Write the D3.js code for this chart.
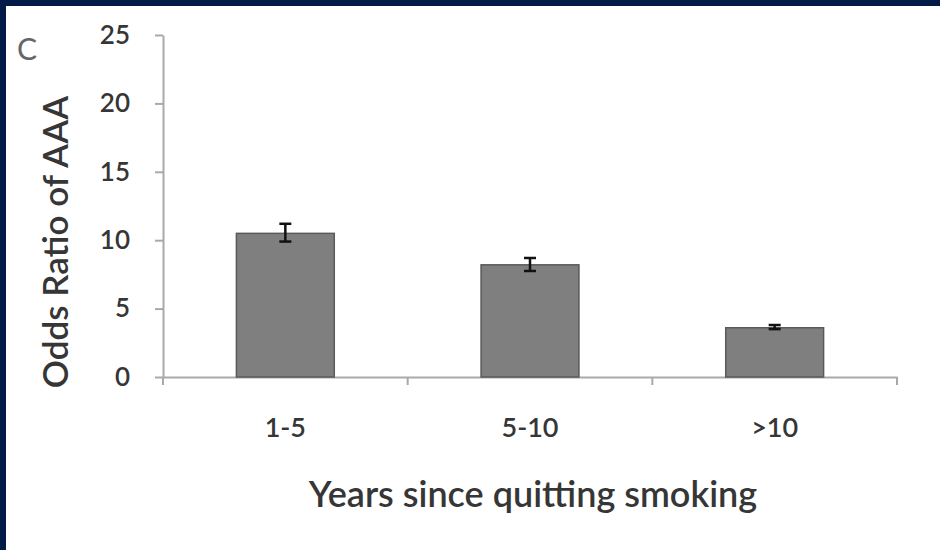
<!DOCTYPE html>
<html>
<head>
<meta charset="utf-8">
<script src="https://cdn.jsdelivr.net/npm/d3@7"></script>
<style>
  html, body { margin: 0; padding: 0; background: #ffffff; }
  svg { display: block; }
  text { font-family: Lato, "Open Sans", sans-serif; }
</style>
</head>
<body>
<svg id="chart" width="940" height="550"></svg>
<script>
// ---- data ----
const categories = ["1-5", "5-10", ">10"];
const oddsRatio = [10.5, 8.2, 3.6];
const errUpper = [11.2, 8.7, 3.8];
const errLower = [9.9, 7.75, 3.5];
const yTicks = [0, 5, 10, 15, 20, 25];
const panelLabel = "C";
const yTitle = "Odds Ratio of AAA";
const xTitle = "Years since quitting smoking";

// ---- layout ----
const W = 940, H = 550;
const plot = { left: 163, right: 897, top: 35, bottom: 377 };
const svg = d3.select("#chart");

svg.append("rect").attr("x", 0).attr("y", 0).attr("width", W).attr("height", H).attr("fill", "#ffffff");
// navy frame (top and left edges)
svg.append("rect").attr("x", 0).attr("y", 0).attr("width", W).attr("height", 6).attr("fill", "#021a48");
svg.append("rect").attr("x", 0).attr("y", 0).attr("width", 6).attr("height", H).attr("fill", "#021a48");

const x = d3.scaleBand().domain(categories).range([plot.left, plot.right]).paddingInner(0.6).paddingOuter(0.3);
const y = d3.scaleLinear().domain([0, 25]).range([plot.bottom, plot.top]);

const axisColor = "#a9a9a9";
const textColor = "#363636";

// y axis
const yAxis = svg.append("g").attr("transform", `translate(${plot.left},0)`)
  .call(d3.axisLeft(y).tickValues(yTicks).tickSize(8).tickSizeOuter(0).tickPadding(25));
yAxis.select(".domain").attr("stroke", axisColor).attr("stroke-width", 2);
yAxis.selectAll(".tick line").attr("stroke", axisColor).attr("stroke-width", 2);
yAxis.selectAll(".tick text").attr("fill", textColor).attr("font-size", 26).attr("font-weight", 600)
  .attr("font-family", "Lato, 'Open Sans', sans-serif");

// x axis (baseline + boundary ticks)
const xAxis = svg.append("g").attr("transform", `translate(0,${y(0)})`)
  .call(d3.axisBottom(x).tickSize(0).tickSizeOuter(0).tickPadding(41));
xAxis.select(".domain").attr("stroke", axisColor).attr("stroke-width", 2);
xAxis.selectAll(".tick text").attr("fill", textColor).attr("font-size", 27).attr("font-weight", 600)
  .attr("font-family", "Lato, 'Open Sans', sans-serif");
const boundaries = d3.range(categories.length + 1).map(i => x.range()[0] + i * x.step());
xAxis.selectAll("line.bnd").data(boundaries).enter().append("line")
  .attr("class", "bnd")
  .attr("x1", d => d).attr("x2", d => d).attr("y1", 0).attr("y2", 8)
  .attr("stroke", axisColor).attr("stroke-width", 2);

// bars
svg.append("g").selectAll("rect").data(categories).enter().append("rect")
  .attr("x", d => x(d))
  .attr("y", (d, i) => y(oddsRatio[i]))
  .attr("width", x.bandwidth())
  .attr("height", (d, i) => y(0) - y(oddsRatio[i]))
  .attr("fill", "#7f7f7f")
  .attr("stroke", "#5a5a5a")
  .attr("stroke-width", 1.5);

// error bars
const eb = svg.append("g").attr("stroke", "#111").attr("stroke-width", 2.5);
categories.forEach((c, i) => {
  const cx = x(c) + x.bandwidth() / 2;
  eb.append("line").attr("x1", cx).attr("x2", cx).attr("y1", y(errUpper[i])).attr("y2", y(errLower[i]));
  eb.append("line").attr("x1", cx - 6).attr("x2", cx + 6).attr("y1", y(errUpper[i])).attr("y2", y(errUpper[i]));
  eb.append("line").attr("x1", cx - 6).attr("x2", cx + 6).attr("y1", y(errLower[i])).attr("y2", y(errLower[i]));
});

// panel label
svg.append("text").attr("x", 17).attr("y", 60).text(panelLabel)
  .attr("font-size", 30).attr("fill", "#666666");

// y title
svg.append("text")
  .attr("transform", `translate(68,242) rotate(-90)`)
  .attr("text-anchor", "middle")
  .attr("font-size", 35).attr("font-weight", 600).attr("fill", textColor)
  .text(yTitle);

// x title
svg.append("text")
  .attr("x", 533).attr("y", 507)
  .attr("text-anchor", "middle")
  .attr("font-size", 36).attr("font-weight", 600).attr("fill", textColor)
  .text(xTitle);
</script>
</body>
</html>
